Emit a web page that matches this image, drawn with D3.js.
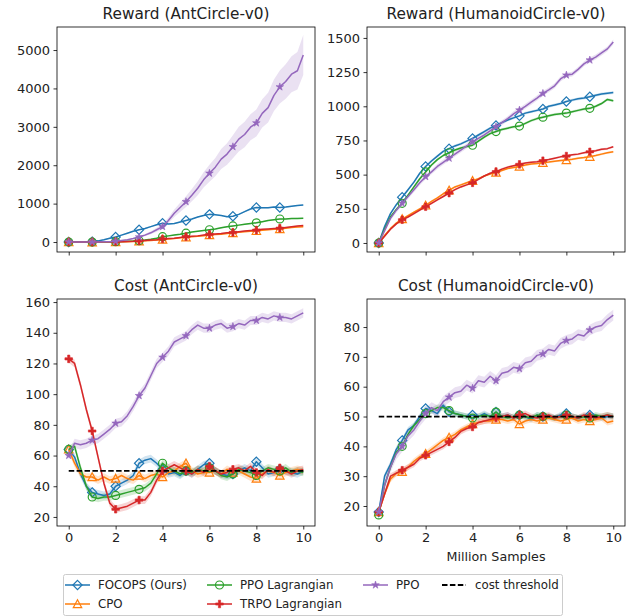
<!DOCTYPE html>
<html><head><meta charset="utf-8">
<script src="https://cdn.jsdelivr.net/npm/d3@7"></script>
<style>body{margin:0;background:#fff} svg{display:block} text{font-family:"DejaVu Sans",sans-serif;fill:#222}</style>
</head><body>
<script>
// ---------------- DATA ----------------
const steps = [0,0.25,0.5,0.75,1,1.25,1.5,1.75,2,2.25,2.5,2.75,3,3.25,3.5,3.75,4,4.25,4.5,4.75,5,5.25,5.5,5.75,6,6.25,6.5,6.75,7,7.25,7.5,7.75,8,8.25,8.5,8.75,9,9.25,9.5,9.75,10];
const methods = ["FOCOPS (Ours)", "CPO", "PPO Lagrangian", "TRPO Lagrangian", "PPO"];
const xTicks = [0,2,4,6,8,10];

// Reward (AntCircle-v0)
const antRewardFOCOPS = [0,0,0,5,10,30,60,100,130,180,230,280,320,350,400,450,490,470,480,520,560,600,650,690,720,710,690,660,670,720,790,860,900,890,890,910,900,910,930,950,965];
const antRewardCPO    = [0,-5,-5,-5,-5,-5,0,0,0,5,10,15,20,30,40,50,65,80,90,110,125,140,150,165,180,195,205,220,235,255,270,280,290,305,320,330,340,360,375,390,400];
const antRewardPPOL   = [0,0,0,0,0,5,5,10,10,15,20,25,35,50,70,100,140,160,180,200,230,260,280,300,320,340,370,400,420,440,460,480,500,530,560,580,600,600,610,615,620];
const antRewardTRPOL  = [0,0,0,0,0,0,5,5,10,10,15,20,30,40,50,60,80,90,100,120,140,150,160,180,200,210,220,240,250,270,290,300,310,330,340,350,360,380,400,420,430];
const antRewardPPO    = [0,0,0,0,0,0,5,10,20,40,60,90,130,180,240,320,400,560,750,900,1050,1220,1400,1620,1790,1950,2160,2290,2480,2680,2800,2990,3100,3350,3500,3820,4040,4180,4370,4460,4870];
const antRewardPPOStd = [0,0,0,0,0,5,5,5,10,10,15,20,25,30,40,50,60,80,100,120,140,160,180,200,220,240,260,280,300,320,330,340,350,370,390,410,430,450,470,490,520];
const antRewardTicks  = [0,1000,2000,3000,4000,5000];

// Reward (HumanoidCircle-v0)
const humRewardFOCOPS = [0,120,215,280,335,390,445,510,560,600,635,670,690,710,725,745,765,790,815,840,860,880,900,915,930,950,960,970,980,1000,1010,1020,1035,1045,1055,1060,1070,1080,1090,1095,1100];
const humRewardCPO    = [0,55,105,145,175,200,225,250,275,305,330,360,385,410,425,440,455,470,490,505,515,530,545,552,560,570,578,582,587,592,598,603,607,612,620,625,631,640,650,660,667];
const humRewardPPOL   = [0,100,190,245,290,350,410,470,520,570,610,640,660,680,695,705,715,745,775,800,815,830,840,850,855,875,895,910,920,930,940,945,950,960,970,980,985,1000,1020,1050,1040];
const humRewardTRPOL  = [0,50,100,140,170,190,215,240,265,290,315,340,365,390,410,425,440,465,490,510,522,540,555,565,575,585,590,595,602,610,620,630,636,645,650,660,667,675,685,690,704];
const humRewardPPO    = [0,90,180,240,290,340,390,440,485,520,560,590,620,650,680,710,740,765,790,820,850,880,910,945,972,1000,1030,1060,1094,1120,1150,1200,1228,1235,1270,1310,1338,1360,1390,1420,1470];
const humRewardTicks  = [0,250,500,750,1000,1250,1500];

// Cost (AntCircle-v0)
const antCostFOCOPS = [64,59,48,40,36,35,34,35,40,42,44,47,55,57,58,55,51,48,49,47,50,48,51,54,55,50,48,47,48,50,52,50,56,52,48,49,51,50,49,48,50];
const antCostCPO    = [64,55,48,46,46,44,46,44,45,47,45,44,47,45,47,48,46,49,50,53,55,50,48,49,49,50,48,51,49,50,48,46,45,48,50,49,47,49,50,51,50];
const antCostPPOL   = [64,66,52,40,33,32,33,33,34,35,36,37,38,39,42,48,55,52,50,48,50,49,51,50,52,50,47,46,48,51,50,49,47,50,52,51,50,52,49,50,49];
const antCostTRPOL  = [123,120,106,90,76,59,42,29,25,26,27,29,31,31,36,44,50,52,54,52,50,48,51,49,53,50,48,49,51,52,50,53,49,47,51,49,52,50,48,50,51];
const antCostPPO    = [60,68,67,68,70,71,74,77,81,82,86,92,99,104,112,120,124,128,134,136,138,142,145,143,143,145,146,143,144,146,145,148,148,150,149,151,150,150,149,151,153];
const antCostTicks  = [20,40,60,80,100,120,140,160];

// Cost (HumanoidCircle-v0)
const humCostFOCOPS = [18,30,34,39,42,45.5,47,50,52.7,52,51,53.8,51.6,51,50.5,50,50.5,50,51,50,51.5,50,50.5,49.5,50.5,50,49,50.5,50,50,49.5,50.5,51,50,49.5,50,50.5,50,49.5,50,50];
const humCostCPO    = [18,24,29,31,31.5,33,35,36.5,37.5,39,40.5,42,43,44,45.5,46.5,47.5,48,48.5,48.5,49,49,48.5,49,47.5,48.5,49,48.5,49,49.5,49,48.5,49,49.5,48.5,49,48.5,49,49.5,48,48.5];
const humCostPPOL   = [17,27,33,38,40,44,47,49,51,52,53,53,52,51,50.5,50,49.5,50,50.5,50,51.5,50,49.5,50,50.5,50,49.5,50.5,50,50,49.5,50,50.5,50,49.5,50,49.5,50.5,50,50.5,50];
const humCostTRPOL  = [18,24,30,31,32,33,34,36,37,38,39,40,41.5,43,45,46,46.5,48,48.5,49,49.5,50,50.5,49.5,50.5,51,50,49.5,50,50.5,49.5,50,50.5,50,49.5,50.5,50,49.5,50,50.5,50];
const humCostPPO    = [18,27,33,37.5,40,43.5,45.5,48.5,51,53,52,55,56.5,58,58.5,60.5,59.5,62,61.5,63.5,62,64.5,65,66.5,66,68,68.5,70.5,71,72.5,72,74.5,75.5,76,77.5,77,79,80,80.5,82.5,84];
const humCostTicks  = [20,30,40,50,60,70,80];

const costThreshold = 50;

// ---------------- STYLE / LAYOUT ----------------
const colors  = ["#1f77b4","#ff7f0e","#2ca02c","#d62728","#9467bd"];
const markers = ["diamond","triangle","circle","plus","star"];

const panels = [
  {title:"Reward (AntCircle-v0)", x0:57, x1:315, y0:27, y1:252, dom:[-260,5600], ticks:antRewardTicks,
   series:[antRewardFOCOPS,antRewardCPO,antRewardPPOL,antRewardTRPOL,antRewardPPO],
   std:[15,12,15,12,antRewardPPOStd], xlabels:false, threshold:false},
  {title:"Reward (HumanoidCircle-v0)", x0:367, x1:625, y0:27, y1:252, dom:[-66,1580], ticks:humRewardTicks,
   series:[humRewardFOCOPS,humRewardCPO,humRewardPPOL,humRewardTRPOL,humRewardPPO],
   std:[10,8,10,8,18], xlabels:false, threshold:false},
  {title:"Cost (AntCircle-v0)", x0:57, x1:315, y0:299, y1:526, dom:[14.1,162], ticks:antCostTicks,
   series:[antCostFOCOPS,antCostCPO,antCostPPOL,antCostTRPOL,antCostPPO],
   std:[2.5,2.5,2.5,2.5,3], xlabels:true, threshold:true},
  {title:"Cost (HumanoidCircle-v0)", x0:367, x1:625, y0:299, y1:526, dom:[13.3,89.4], ticks:humCostTicks,
   series:[humCostFOCOPS,humCostCPO,humCostPPOL,humCostTRPOL,humCostPPO],
   std:[1,1,1,1,1.8], xlabels:true, threshold:true, xlabel:"Million Samples"}
];

const W = 629, H = 616;
const svg = d3.select("body").append("svg").attr("width", W).attr("height", H);

function markerPath(type){
  switch(type){
    case "diamond": return "M0,-4.6L4.6,0L0,4.6L-4.6,0Z";
    case "triangle": return "M0,-4.2L4.2,3.6L-4.2,3.6Z";
    case "circle": return d3.symbol(d3.symbolCircle, 50)();
    case "plus": { const s=3.8, t=1.1; return `M${-t},${-s}H${t}V${-t}H${s}V${t}H${t}V${s}H${-t}V${t}H${-s}V${-t}H${-t}Z`; }
    case "star": return d3.symbol(d3.symbolStar, 18)();
  }
}
function drawMarker(g, type, color, x, y){
  const filled = (type === "plus" || type === "star");
  g.append("path").attr("d", markerPath(type)).attr("transform", `translate(${x},${y})`)
    .attr("fill", filled ? color : "none").attr("stroke", color).attr("stroke-width", filled ? 0.6 : 1.2);
}

panels.forEach(p => {
  const x = d3.scaleLinear().domain([-0.5, 10.5]).range([p.x0, p.x1]);
  const y = d3.scaleLinear().domain(p.dom).range([p.y1, p.y0]);
  const g = svg.append("g");
  const cid = "clip" + p.x0 + "_" + p.y0;
  svg.append("clipPath").attr("id", cid).append("rect").attr("x", p.x0).attr("y", p.y0).attr("width", p.x1-p.x0).attr("height", p.y1-p.y0);
  const plot = g.append("g").attr("clip-path", `url(#${cid})`);

  p.series.forEach((vals, i) => {
    const sd = p.std[i];
    const sdAt = j => Array.isArray(sd) ? sd[j] : sd;
    const area = d3.area().x((d,j) => x(steps[j])).y0((d,j) => y(d - sdAt(j))).y1((d,j) => y(d + sdAt(j)));
    plot.append("path").attr("d", area(vals)).attr("fill", colors[i]).attr("fill-opacity", 0.2).attr("stroke","none");
  });
  p.series.forEach((vals, i) => {
    const line = d3.line().x((d,j) => x(steps[j])).y(d => y(d));
    plot.append("path").attr("d", line(vals)).attr("fill","none").attr("stroke", colors[i]).attr("stroke-width", 1.5).attr("stroke-linejoin","round");
    vals.forEach((v, j) => { if (j % 4 === 0 && j <= 36) drawMarker(plot, markers[i], colors[i], x(steps[j]), y(v)); });
  });
  if (p.threshold) {
    plot.append("line").attr("x1", x(0)).attr("x2", x(10)).attr("y1", y(costThreshold)).attr("y2", y(costThreshold))
      .attr("stroke", "#000").attr("stroke-width", 1.8).attr("stroke-dasharray", "5.5,2.4");
  }

  // axes
  const xa = d3.axisBottom(x).tickValues(xTicks).tickSize(3.5).tickPadding(3.5).tickFormat(p.xlabels ? d3.format("d") : () => "");
  const xg = g.append("g").attr("transform", `translate(0,${p.y1})`).call(xa);
  const ya = d3.axisLeft(y).tickValues(p.ticks).tickSize(3.5).tickPadding(3.5).tickFormat(d3.format("d"));
  const yg = g.append("g").attr("transform", `translate(${p.x0},0)`).call(ya);
  [xg, yg].forEach(a => {
    a.select(".domain").remove();
    a.selectAll("line").attr("stroke", "#000").attr("stroke-width", 0.8);
    a.selectAll("text").attr("font-size", 13).attr("font-family", "DejaVu Sans").attr("fill", "#222");
  });
  g.append("rect").attr("x", p.x0).attr("y", p.y0).attr("width", p.x1-p.x0).attr("height", p.y1-p.y0)
    .attr("fill","none").attr("stroke","#000").attr("stroke-width", 0.8);
  g.append("text").attr("x", (p.x0+p.x1)/2).attr("y", p.y0 - 8).attr("text-anchor","middle").attr("font-size", 15.3).text(p.title);
  if (p.xlabel) g.append("text").attr("x", (p.x0+p.x1)/2).attr("y", p.y1 + 35).attr("text-anchor","middle").attr("font-size", 12.7).text(p.xlabel);
});

// legend
const lg = svg.append("g");
lg.append("rect").attr("x", 63.5).attr("y", 574.5).attr("width", 499).attr("height", 41).attr("rx", 2)
  .attr("fill","#fff").attr("stroke","#ccc").attr("stroke-width", 1);
const legendItems = [
  {label: methods[0], i:0, hx:65, ty:585},
  {label: methods[1], i:1, hx:65, ty:604},
  {label: methods[2], i:2, hx:207, ty:585},
  {label: methods[3], i:3, hx:207, ty:604},
  {label: methods[4], i:4, hx:363, ty:585},
  {label: "cost threshold", i:-1, hx:442, ty:585}
];
legendItems.forEach(it => {
  if (it.i >= 0) {
    lg.append("line").attr("x1", it.hx).attr("x2", it.hx+25).attr("y1", it.ty).attr("y2", it.ty).attr("stroke", colors[it.i]).attr("stroke-width", 1.5);
    drawMarker(lg, markers[it.i], colors[it.i], it.hx+12.5, it.ty);
  } else {
    lg.append("line").attr("x1", it.hx).attr("x2", it.hx+24).attr("y1", it.ty).attr("y2", it.ty).attr("stroke", "#000").attr("stroke-width", 1.8).attr("stroke-dasharray","5.5,2.4");
  }
  lg.append("text").attr("x", it.hx + 33).attr("y", it.ty).attr("dy","0.36em").attr("font-size", 11.8).text(it.label);
});
</script>
</body></html>
